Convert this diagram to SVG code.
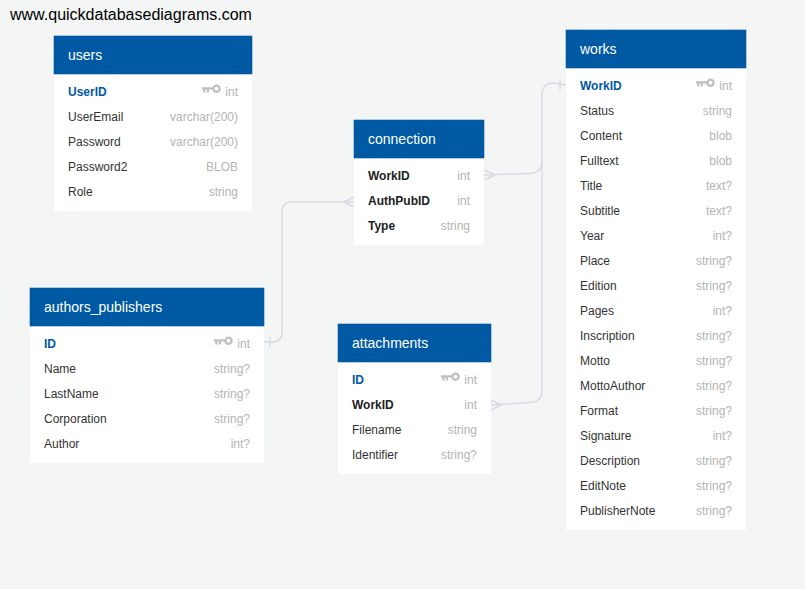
<svg xmlns="http://www.w3.org/2000/svg" width="805" height="589" viewBox="0 0 805 589">
<style>
text{font-family:"Liberation Sans",Arial,sans-serif;font-size:12px;fill:#333}
.bg{fill:#f4f6f6}
.body{fill:#fff}
.head{fill:#0059a3;stroke:#0059a3;stroke-width:.6}
.title{font-size:14px;fill:#fff}
.t{text-anchor:end;fill:#b4b4b4}
.pk{font-weight:bold;fill:#0059a3}
.fk{font-weight:bold;fill:#222}
.c{fill:none;stroke:#d8d9e4;stroke-width:1.4}
</style>
<defs>
<g id="key">
<circle cx="14.5" cy="-0.3" r="3.1" fill="none" stroke="#c0c0c0" stroke-width="2.4"/>
<path d="M11.5 -0.6H0M2.4 -1V3.4M6 -1V3.4" fill="none" stroke="#c0c0c0" stroke-width="2.2"/>
</g>
</defs>
<rect class="bg" width="805" height="589"/>
<text x="10" y="20" style="font-size:16px;fill:#000">www.quickdatabasediagrams.com</text>
<g id="connectors">
<path class="c" d="M264 342H272Q282 342 282 332V212Q282 202 292 202H354"/>
<path class="c" d="M270 337V347M344 202L354 197M344 202L354 207"/>
<path class="c" d="M484 175L530 173.500Q542 173 542 161V95Q542 83 554 83L566 85"/>
<path class="c" d="M495 175L484 170M495 175L484 180M560 79V90"/>
<path class="c" d="M491 405L530 402.500Q542 402 542 390V161"/>
<path class="c" d="M501 405L491 400M501 405L491 410"/>
</g>
<g id="users">
<rect class="body" x="54" y="36" width="198" height="175"/>
<rect class="head" x="54" y="36" width="198" height="38"/>
<text class="title" x="68" y="60">users</text>
<text class="pk" x="68" y="96">UserID</text><use href="#key" x="202" y="89"/><text class="t" x="238" y="96">int</text>
<text x="68" y="121">UserEmail</text><text class="t" x="238" y="121">varchar(200)</text>
<text x="68" y="146">Password</text><text class="t" x="238" y="146">varchar(200)</text>
<text x="68" y="171">Password2</text><text class="t" x="238" y="171">BLOB</text>
<text x="68" y="196">Role</text><text class="t" x="238" y="196">string</text>
</g>
<g id="connection">
<rect class="body" x="354" y="120" width="130" height="125"/>
<rect class="head" x="354" y="120" width="130" height="38"/>
<text class="title" x="368" y="144">connection</text>
<text class="fk" x="368" y="180">WorkID</text><text class="t" x="470" y="180">int</text>
<text class="fk" x="368" y="205">AuthPubID</text><text class="t" x="470" y="205">int</text>
<text class="fk" x="368" y="230">Type</text><text class="t" x="470" y="230">string</text>
</g>
<g id="authors_publishers">
<rect class="body" x="30" y="288" width="234" height="175"/>
<rect class="head" x="30" y="288" width="234" height="38"/>
<text class="title" x="44" y="312">authors_publishers</text>
<text class="pk" x="44" y="348">ID</text><use href="#key" x="214" y="341"/><text class="t" x="250" y="348">int</text>
<text x="44" y="373">Name</text><text class="t" x="250" y="373">string?</text>
<text x="44" y="398">LastName</text><text class="t" x="250" y="398">string?</text>
<text x="44" y="423">Corporation</text><text class="t" x="250" y="423">string?</text>
<text x="44" y="448">Author</text><text class="t" x="250" y="448">int?</text>
</g>
<g id="attachments">
<rect class="body" x="338" y="324" width="153" height="150"/>
<rect class="head" x="338" y="324" width="153" height="38"/>
<text class="title" x="352" y="348">attachments</text>
<text class="pk" x="352" y="384">ID</text><use href="#key" x="441" y="377"/><text class="t" x="477" y="384">int</text>
<text class="fk" x="352" y="409">WorkID</text><text class="t" x="477" y="409">int</text>
<text x="352" y="434">Filename</text><text class="t" x="477" y="434">string</text>
<text x="352" y="459">Identifier</text><text class="t" x="477" y="459">string?</text>
</g>
<g id="works">
<rect class="body" x="566" y="30" width="180" height="500"/>
<rect class="head" x="566" y="30" width="180" height="38"/>
<text class="title" x="580" y="54">works</text>
<text class="pk" x="580" y="90">WorkID</text><use href="#key" x="696" y="83"/><text class="t" x="732" y="90">int</text>
<text x="580" y="115">Status</text><text class="t" x="732" y="115">string</text>
<text x="580" y="140">Content</text><text class="t" x="732" y="140">blob</text>
<text x="580" y="165">Fulltext</text><text class="t" x="732" y="165">blob</text>
<text x="580" y="190">Title</text><text class="t" x="732" y="190">text?</text>
<text x="580" y="215">Subtitle</text><text class="t" x="732" y="215">text?</text>
<text x="580" y="240">Year</text><text class="t" x="732" y="240">int?</text>
<text x="580" y="265">Place</text><text class="t" x="732" y="265">string?</text>
<text x="580" y="290">Edition</text><text class="t" x="732" y="290">string?</text>
<text x="580" y="315">Pages</text><text class="t" x="732" y="315">int?</text>
<text x="580" y="340">Inscription</text><text class="t" x="732" y="340">string?</text>
<text x="580" y="365">Motto</text><text class="t" x="732" y="365">string?</text>
<text x="580" y="390">MottoAuthor</text><text class="t" x="732" y="390">string?</text>
<text x="580" y="415">Format</text><text class="t" x="732" y="415">string?</text>
<text x="580" y="440">Signature</text><text class="t" x="732" y="440">int?</text>
<text x="580" y="465">Description</text><text class="t" x="732" y="465">string?</text>
<text x="580" y="490">EditNote</text><text class="t" x="732" y="490">string?</text>
<text x="580" y="515">PublisherNote</text><text class="t" x="732" y="515">string?</text>
</g>
</svg>
